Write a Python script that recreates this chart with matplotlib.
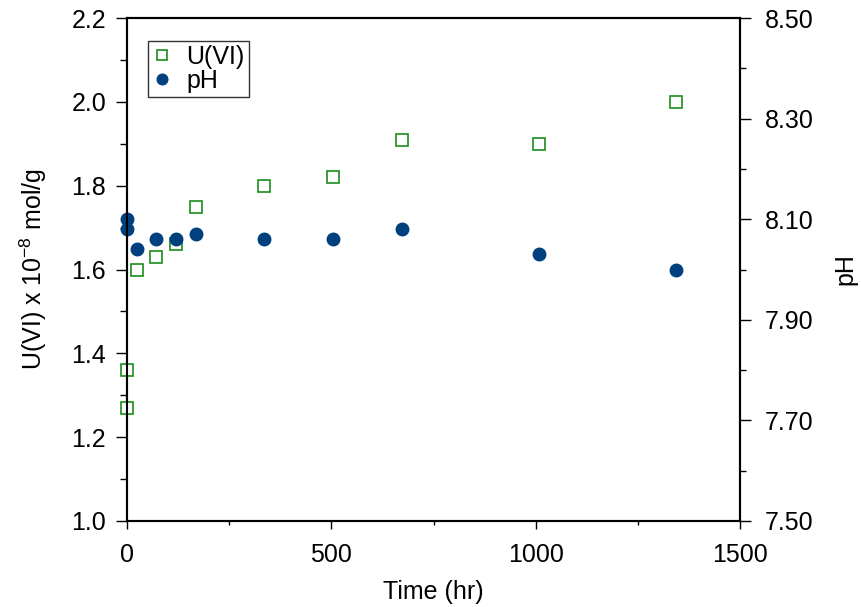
import matplotlib
matplotlib.use("Agg")
import numpy as np
import matplotlib.pyplot as plt
from matplotlib.ticker import MultipleLocator, FixedLocator, FormatStrFormatter

plt.rcParams['font.family'] = ['Liberation Sans', 'DejaVu Sans']

# data
time_u = [0, 1, 24, 72, 120, 168, 336, 504, 672, 1008, 1344]
uvi = [1.27, 1.36, 1.60, 1.63, 1.66, 1.75, 1.80, 1.82, 1.91, 1.90, 2.00]
time_ph = [0, 1, 24, 72, 120, 168, 336, 504, 672, 1008, 1344]
ph = [8.08, 8.10, 8.04, 8.06, 8.06, 8.07, 8.06, 8.06, 8.08, 8.03, 8.00]

green = '#1a8c1a'
navy = '#00407f'
fs = 18

fig = plt.figure(figsize=(8.61, 6.07), dpi=100)
ax = fig.add_axes([0.1475, 0.1417, 0.712, 0.8286])
ax2 = ax.twinx()

h1, = ax.plot(time_u, uvi, 's', ms=8, mfc='white', mec=green, mew=1.2,
              label='U(VI)', zorder=3, clip_on=False)
h2, = ax2.plot(time_ph, ph, 'o', ms=9, color=navy, label='pH',
               zorder=2, clip_on=False)

ax.set_xlim(0, 1500)
ax.set_ylim(1.0, 2.2)
ax2.set_ylim(7.5, 8.5)

ax.xaxis.set_major_locator(MultipleLocator(500))
ax.xaxis.set_minor_locator(MultipleLocator(250))
ax.yaxis.set_major_locator(MultipleLocator(0.2))
ax.yaxis.set_minor_locator(MultipleLocator(0.1))
ax.yaxis.set_major_formatter(FormatStrFormatter('%.1f'))
ax2.yaxis.set_major_locator(FixedLocator(np.arange(7.5, 8.51, 0.2)))
ax2.yaxis.set_minor_locator(FixedLocator(np.arange(7.6, 8.5, 0.2)))
ax2.yaxis.set_major_formatter(FormatStrFormatter('%.2f'))

ax.tick_params(axis='x', which='major', direction='out', labelsize=fs,
               length=6, width=1, pad=10)
ax.tick_params(axis='x', which='minor', direction='out', length=3, width=1)
ax.tick_params(axis='y', which='major', direction='out', labelsize=fs,
               length=8, width=1, pad=7)
ax.tick_params(axis='y', which='minor', direction='out', length=5, width=1)
ax2.tick_params(axis='y', which='major', direction='out', labelsize=fs,
                length=8, width=1, pad=10)
ax2.tick_params(axis='y', which='minor', direction='out', length=4, width=1)

for a in (ax, ax2):
    for s in a.spines.values():
        s.set_linewidth(1.5)

ax.set_xlabel('Time (hr)', fontsize=fs, labelpad=9)
ax.set_ylabel('U(VI) x 10$^{\\mathregular{-8}}$ mol/g', fontsize=fs, labelpad=16)
ax2.set_ylabel('pH', fontsize=fs, rotation=90, labelpad=14)

leg = ax.legend(handles=[h1, h2], loc='upper left', bbox_to_anchor=(0.034, 0.954),
                fontsize=fs, frameon=True, fancybox=False, borderpad=0.15,
                handletextpad=0.6, handlelength=0.8, labelspacing=0.0,
                borderaxespad=0, markerscale=0.85)
leg.get_frame().set_edgecolor('black')
leg.get_frame().set_linewidth(1)
leg.set_zorder(5)

fig.savefig('out.png', dpi=100)
